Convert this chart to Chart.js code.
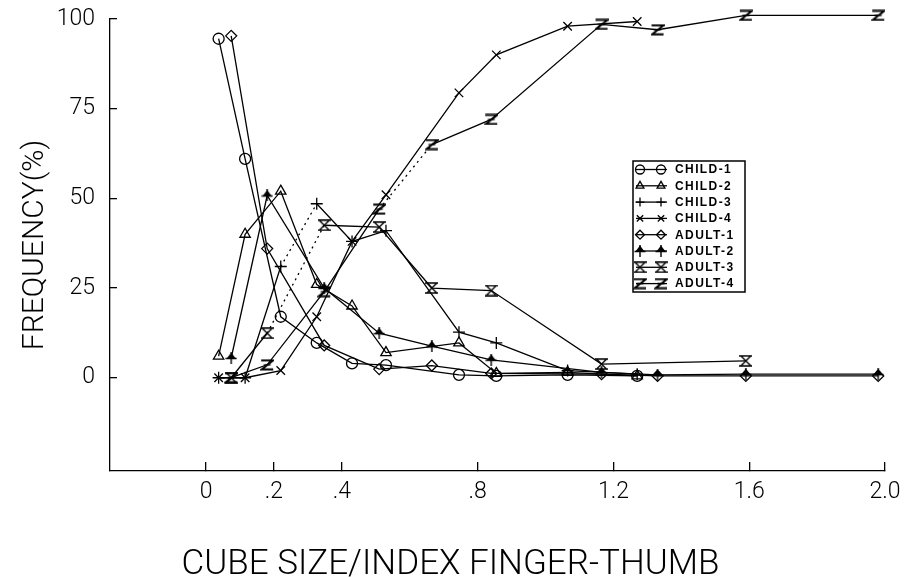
<!DOCTYPE html>
<html>
<head>
<meta charset="utf-8">
<script src="https://cdn.jsdelivr.net/npm/chart.js@4.4.1/dist/chart.umd.min.js"></script>
<style>
  html, body { margin: 0; padding: 0; background: #fff; }
</style>
</head>
<body>
<canvas id="chart" width="907" height="577"></canvas>
<script>
// x positions (cube size / finger-thumb span) for the two groups
const childX = [0.037, 0.115, 0.22, 0.326, 0.43, 0.53, 0.745, 0.855, 1.065, 1.27];
const adultX = [0.074, 0.18, 0.348, 0.51, 0.665, 0.84, 1.165, 1.33, 1.59, 1.98];

// frequency (%) per series
const child1 = [94.5, 61, 17, 9.7, 4, 3.5, 0.8, 0.5, 0.8, 0.5];
const child2 = [6, 40, 52, 26, 20, 7, 9.7, 1.2, 1.5, 0.5];
const child3 = [0, 0, 31, 48.5, 38, 41, 12.7, 9.7, 2, 1];
const child4 = [0, 0, 2, 17, 38, 51, 79.4, 90, 98, 99.3];
const adult1 = [95.3, 36, 9, 2.4, 3.4, 1.2, 1, 0.5, 0.5, 0.5];
const adult2 = [5.5, 50.8, 25, 12.4, 8.8, 5, 1.5, 0.8, 1, 1];
const adult3 = [0, 12.4, 42.5, 42, 25, 24.3, 3.8, null, 4.7, null];
const adult4 = [0, 3.6, 24, 47, 65, 72, 98.5, 97, 101, 101];

const seriesLabels = ['CHILD-1', 'CHILD-2', 'CHILD-3', 'CHILD-4', 'ADULT-1', 'ADULT-2', 'ADULT-3', 'ADULT-4'];

// segments that print as dotted in the original (index of segment start)
const dottedSegs = [[], [], [2], [], [], [], [1], [3]];

// axis ticks
const yTicks = [0, 25, 50, 75, 100];
const xTicks = [0, 0.2, 0.4, 0.8, 1.2, 1.6, 2.0];
const xTickLabels = ['0', '.2', '.4', '.8', '1.2', '1.6', '2.0'];

// little canvases for the markers chart.js has no shape for
function marker(w, h, draw) {
  const c = document.createElement('canvas');
  c.width = w; c.height = h;
  const g = c.getContext('2d');
  g.strokeStyle = '#000'; g.fillStyle = '#000'; g.lineWidth = 1.4;
  draw(g, w, h);
  return c;
}
const arrowMark = marker(12, 12, g => {
  g.beginPath(); g.moveTo(6, 0); g.lineTo(6, 12); g.moveTo(0.5, 6.5); g.lineTo(11.5, 6.5); g.stroke();
  g.beginPath(); g.moveTo(6, 0.5); g.lineTo(1.5, 6.5); g.lineTo(10.5, 6.5); g.closePath(); g.fill();
});
const hourMark = marker(13, 12, g => {
  g.beginPath();
  g.moveTo(1.5, 1); g.lineTo(11.5, 11); g.moveTo(11.5, 1); g.lineTo(1.5, 11);
  g.moveTo(0, 1); g.lineTo(13, 1); g.moveTo(0, 11); g.lineTo(13, 11);
  g.stroke();
});
const zMark = marker(14, 12, g => {
  g.lineWidth = 2;
  g.beginPath(); g.moveTo(1, 1.5); g.lineTo(13, 1.5); g.lineTo(1.5, 10.5); g.lineTo(13, 10.5); g.stroke();
  g.lineWidth = 1.3;
  g.beginPath(); g.moveTo(3.5, 6); g.lineTo(10.5, 6); g.stroke();
});

const styles = ['circle', 'triangle', 'cross', 'crossRot', 'rectRot', arrowMark, hourMark, zMark];
const radii = [5.5, 6, 6, 6, 5.5, 6, 6, 7];
const allY = [child1, child2, child3, child4, adult1, adult2, adult3, adult4];

const datasets = allY.map((ys, i) => {
  const xs = i < 4 ? childX : adultX;
  return {
    label: seriesLabels[i],
    data: xs.map((x, j) => ({ x: x, y: ys[j] })),
    borderColor: '#000',
    borderWidth: 1.3,
    pointStyle: styles[i],
    pointRadius: radii[i],
    pointBorderColor: '#000',
    pointBackgroundColor: 'rgba(0,0,0,0)',
    pointBorderWidth: 1.3,
    tension: 0,
    spanGaps: true,
    clip: false,
    segment: {
      borderDash: c => dottedSegs[i].includes(c.p0DataIndex) ? [2, 4] : undefined
    }
  };
});

// boxed legend drawn inside the plot, line + two markers per row
const legendBox = {
  id: 'legendBox',
  afterDatasetsDraw(chart) {
    const ctx = chart.ctx;
    const left = 633, top = 161, w = 112, h = 131, row = 16.3;
    ctx.save();
    ctx.strokeStyle = '#000';
    ctx.lineWidth = 1.5;
    ctx.strokeRect(left, top, w, h);
    ctx.font = 'bold 12px "Liberation Sans", Arial, sans-serif';
    ctx.letterSpacing = '1.4px';
    ctx.textBaseline = 'middle';
    chart.data.datasets.forEach((ds, i) => {
      const y = top + 8.5 + i * row;
      ctx.strokeStyle = '#000';
      ctx.lineWidth = 1.3;
      ctx.beginPath(); ctx.moveTo(left + 3, y); ctx.lineTo(left + 34, y); ctx.stroke();
      ctx.fillStyle = 'rgba(0,0,0,0)';
      [left + 7, left + 28].forEach(px => {
        Chart.helpers.drawPoint(ctx, { pointStyle: ds.pointStyle, radius: 4.5, borderWidth: 1.5, rotation: 0 }, px, y);
      });
      ctx.fillStyle = '#000';
      ctx.fillText(ds.label, left + 42, y + 0.5);
    });
    ctx.restore();
  }
};

const fam = 'Roboto, "DejaVu Sans", sans-serif';
const tickFont = { family: fam, size: 23, weight: '300' };

new Chart(document.getElementById('chart'), {
  type: 'line',
  data: { datasets },
  plugins: [legendBox],
  options: {
    responsive: false,
    animation: false,
    layout: { padding: { top: 19, right: 22, left: 16, bottom: 0 } },
    plugins: {
      legend: { display: false },
      tooltip: { enabled: false },
      title: {
        display: true,
        position: 'bottom',
        text: 'CUBE SIZE/INDEX FINGER-THUMB',
        color: '#000',
        font: { family: fam, size: 35, weight: '300', lineHeight: 0.7 },
        padding: { top: 0, bottom: 0 }
      }
    },
    scales: {
      x: {
        type: 'linear',
        min: -0.283,
        max: 2.0,
        afterBuildTicks: s => { s.ticks = xTicks.map(v => ({ value: v })); },
        afterFit: s => { s.height = 81.5; s.paddingLeft = 0; s.paddingRight = 0; },
        grid: { drawOnChartArea: false, drawTicks: true, tickLength: -9, color: '#000', lineWidth: 1.3 },
        border: { display: true, color: '#000', width: 1.3 },
        ticks: {
          color: '#000',
          font: tickFont,
          padding: 16,
          maxRotation: 0,
          autoSkip: false,
          callback: v => xTickLabels[xTicks.indexOf(v)]
        }
      },
      y: {
        type: 'linear',
        min: -26,
        max: 100,
        afterBuildTicks: s => { s.ticks = yTicks.map(v => ({ value: v })); },
        afterFit: s => { s.width = 94; s.paddingTop = 0; s.paddingBottom = 0; },
        grid: { drawOnChartArea: false, drawTicks: true, tickLength: -7, color: '#000', lineWidth: 1.3 },
        border: { display: true, color: '#000', width: 1.3 },
        ticks: { color: '#000', font: tickFont, padding: 22, autoSkip: false },
        title: {
          display: true,
          text: 'FREQUENCY(%)',
          color: '#000',
          font: { family: fam, size: 30, weight: '300', lineHeight: 1.2 },
          padding: { top: 1, bottom: 0 }
        }
      }
    }
  }
});
</script>
</body>
</html>
